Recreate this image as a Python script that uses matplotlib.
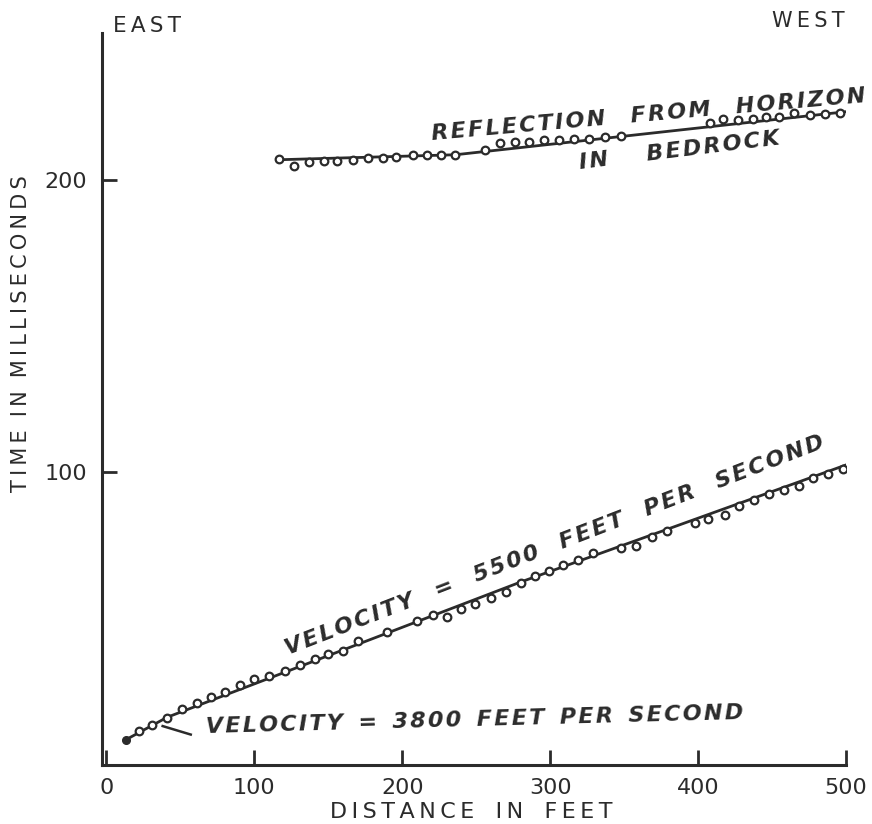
import numpy as np
import matplotlib
matplotlib.use("Agg")
import matplotlib.pyplot as plt

# direct arrivals (lower curve), distance in feet / time in ms
near_x = [13, 22, 31, 41, 51, 61, 71, 80, 90, 100, 110, 121, 131, 141, 150, 160, 170,
          190, 210, 221, 230, 240, 249, 260, 270, 280, 290, 299, 309, 319, 329,
          348, 358, 369, 379, 398, 407, 418, 428, 438, 448, 458, 468, 478, 488, 498]
near_t = [8.6, 11.5, 13.7, 16.2, 19.1, 21.2, 23.1, 25.0, 27.3, 29.4, 30.3, 32.1, 34.1, 36.2, 37.9, 39.0, 42.5,
          45.6, 49.2, 51.2, 50.5, 53.2, 54.9, 57.2, 59.0, 62.1, 64.6, 66.3, 68.3, 70.0, 72.6,
          74.3, 74.7, 78.0, 79.9, 82.8, 84.0, 85.4, 88.5, 90.4, 92.5, 93.9, 95.3, 98.1, 99.3, 101.0]
near_fit_x = [13, 41, 280, 500]
near_fit_t = [8.6, 16.3, 62.5, 102.5]

# reflection from bedrock (upper curve)
refl_x = [117, 127, 137, 147, 156, 167, 177, 187, 196, 207, 217, 226, 236,
          256, 266, 276, 286, 296, 306, 316, 326, 337, 348,
          408, 417, 427, 437, 446, 455, 465, 476, 486, 496]
refl_t = [207.2, 204.8, 206.0, 206.5, 206.5, 206.8, 207.4, 207.4, 207.9, 208.5, 208.5, 208.5, 208.5,
          210.2, 212.5, 212.7, 213.0, 213.4, 213.7, 213.9, 213.9, 214.6, 215.0,
          219.5, 220.6, 220.5, 220.8, 221.4, 221.4, 222.9, 222.1, 222.4, 222.7]
refl_fit_x = [117, 236, 500]
refl_fit_t = [206.8, 208.5, 223.2]

ink = "#2b2b2b"


def spaced(s, gap="\u2009", word="  "):
    return gap.join(s).replace(gap + " " + gap, word)


fig = plt.figure(figsize=(8.72, 8.24), dpi=100)
ax = fig.add_axes([0.117, 0.0716, 0.853, 0.888])
ax.set_xlim(-3, 500)
ax.set_ylim(0, 250)

ax.plot(near_fit_x, near_fit_t, color=ink, lw=2.0)
ax.plot(near_x[1:], near_t[1:], "o", ms=5.5, mfc="white", mec=ink, mew=1.6)
ax.plot(near_x[:1], near_t[:1], "o", ms=5.5, mfc=ink, mec=ink)
ax.plot(refl_fit_x, refl_fit_t, color=ink, lw=2.0)
ax.plot(refl_x, refl_t, "o", ms=5.5, mfc="white", mec=ink, mew=1.6)

for side in ["top", "right"]:
    ax.spines[side].set_visible(False)
for side in ["left", "bottom"]:
    ax.spines[side].set_linewidth(2.2)
    ax.spines[side].set_color(ink)

ax.set_xticks([0, 100, 200, 300, 400, 500])
ax.set_yticks([100, 200])
ax.tick_params(direction="in", length=11, width=2.0, color=ink, labelcolor=ink, labelsize=16)
ax.tick_params(axis="x", pad=9)
ax.tick_params(axis="y", pad=11)

ax.set_xlabel(spaced("DISTANCE IN FEET", "\u2009", "   "), fontsize=16, color=ink)
ax.xaxis.set_label_coords(0.497, -0.05)
ax.set_ylabel(spaced("TIME IN MILLISECONDS", "\u200a\u200a"), fontsize=15, color=ink)
ax.yaxis.set_label_coords(-0.095, 0.59)

fig.text(0.13, 0.968, spaced("EAST", "\u200a\u200a"), fontsize=15.5, color=ink, ha="left", va="center")
fig.text(0.969, 0.975, spaced("WEST", "\u200a\u200a"), fontsize=15, color=ink, ha="right", va="center")


def angle_of(x1, y1, x2, y2):
    p1 = ax.transData.transform((x1, y1))
    p2 = ax.transData.transform((x2, y2))
    return np.degrees(np.arctan2(p2[1] - p1[1], p2[0] - p1[0]))


note = dict(fontsize=16, style="italic", weight="bold", color=ink, rotation_mode="anchor",
            ha="left", va="baseline")

ax.text(123, 37.5, spaced("VELOCITY = 5500 FEET PER SECOND", "\u200a", "   "),
        rotation=angle_of(120, 36.5, 485, 107.8), **note)
ax.text(67, 10.8, spaced("VELOCITY = 3800 FEET PER SECOND", "\u200a"), rotation=1.5, **note)
ax.plot([38, 57], [13.3, 10.4], color=ink, lw=1.8)
ax.text(220, 213.5, spaced("REFLECTION  FROM  HORIZON", "\u200a"), rotation=5, **note)
ax.text(320, 203.5, spaced("IN   BEDROCK", "\u200a"), rotation=7, **note)

fig.savefig("out.png", dpi=100, facecolor="white")
